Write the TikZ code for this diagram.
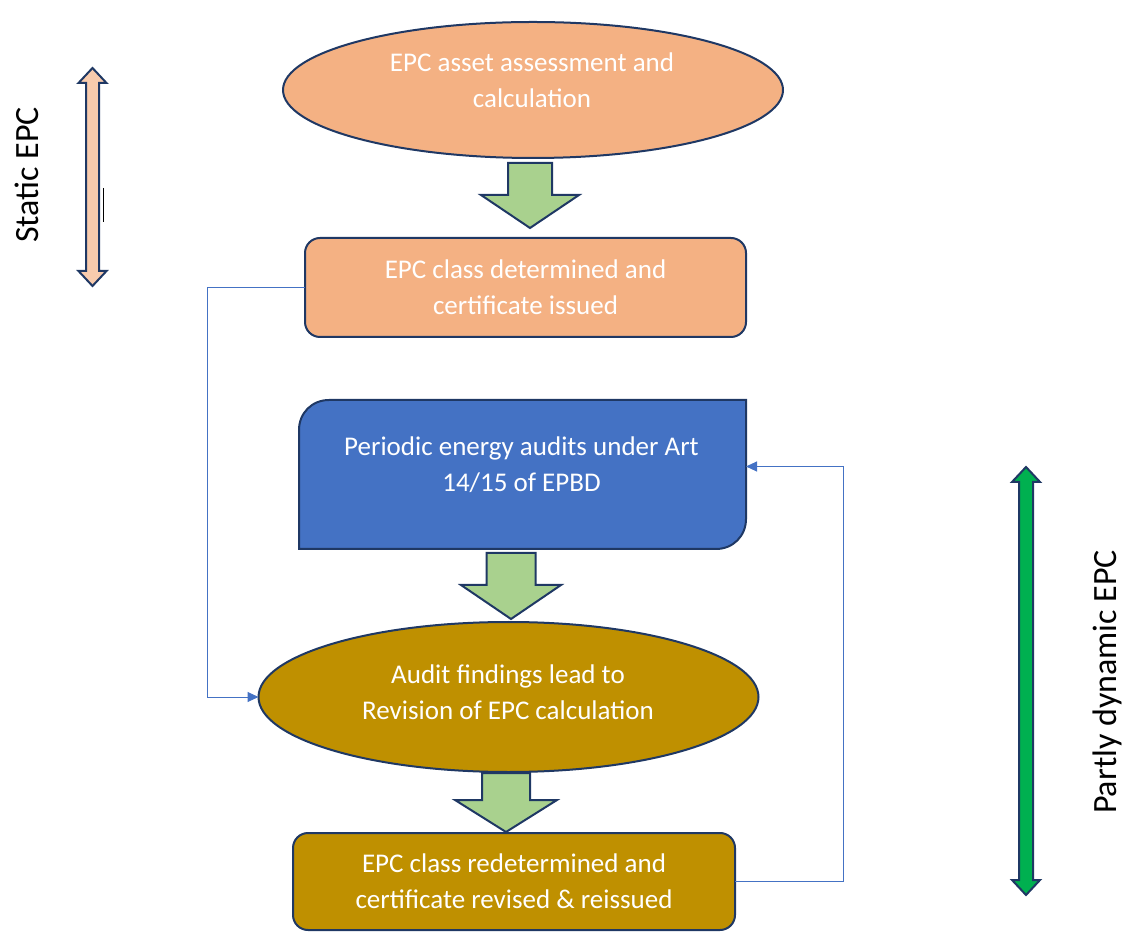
\documentclass[tikz,border=0pt]{standalone}
\usepackage{fontspec}
\setmainfont{Carlito}
\usetikzlibrary{shapes.geometric,arrows.meta,calc}

\definecolor{salmon}{HTML}{F4B183}
\definecolor{palesalmon}{HTML}{F8CBAD}
\definecolor{leaf}{HTML}{A9D18E}
\definecolor{steel}{HTML}{4472C4}
\definecolor{ochre}{HTML}{BF9000}
\definecolor{navy}{HTML}{1F3864}
\definecolor{vivid}{HTML}{00B050}

\tikzset{
  outline/.style={draw=navy, line width=2pt},
  txt/.style={text=white, align=center, font=\fontsize{27}{36}\selectfont, inner sep=0pt},
  oval/.style={ellipse, outline, inner sep=0pt, outer sep=0pt, txt},
  card/.style={rectangle, rounded corners=15pt, outline, outer sep=0pt, txt},
  side/.style={text=black, font=\fontsize{34}{40}\selectfont, inner sep=0pt},
  link/.style={draw=steel, line width=1pt, -{Triangle[length=11pt,width=10pt]}},
  blockarrow/.style={outline, fill=leaf, line join=miter},
}

% downward block arrow: centre x, top, neck, tip, half shaft, half head
\newcommand{\blockdown}[6]{%
  \draw[blockarrow] (#1-#5,#2) -- (#1+#5,#2) -- (#1+#5,#3) -- (#1+#6,#3)
    -- (#1,#4) -- (#1-#6,#3) -- (#1-#5,#3) -- cycle;}

% vertical double-headed block arrow: centre x, top, bottom, half shaft, half head, head length, fill
\newcommand{\twoway}[7]{%
  \draw[outline, line join=miter, fill=#7] (#1,#2) -- (#1+#5,#2-#6) -- (#1+#4,#2-#6)
    -- (#1+#4,#3+#6) -- (#1+#5,#3+#6) -- (#1,#3) -- (#1-#5,#3+#6)
    -- (#1-#4,#3+#6) -- (#1-#4,#2-#6) -- (#1-#5,#2-#6) -- cycle;}

\begin{document}
\begin{tikzpicture}[x=1pt,y=1pt]
\useasboundingbox (0,0) rectangle (1126,932);

% asset assessment
\node[oval, fill=salmon, minimum width=500pt, minimum height=136pt] (e1) at (533,842) {};
\node[txt] (e1t) at (532,852) {EPC asset assessment and\\calculation};

\blockdown{530}{769}{737}{704}{22}{49}

% certificate issued
\node[card, fill=salmon, minimum width=441pt, minimum height=99pt] (r2) at (525.5,644.5)
  {EPC class determined and\\certificate issued};

% periodic audits box, two rounded corners
\node[minimum width=447pt, minimum height=149pt, inner sep=0pt, outer sep=0pt] (b3) at (522.5,457.5) {};
\path[outline, fill=steel] (b3.south west) -- ([yshift=-30pt]b3.north west)
  .. controls ([yshift=-13pt]b3.north west) and ([xshift=13pt]b3.north west) .. ([xshift=30pt]b3.north west)
  -- (b3.north east) -- ([yshift=30pt]b3.south east)
  .. controls ([yshift=13pt]b3.south east) and ([xshift=-13pt]b3.south east) .. ([xshift=-30pt]b3.south east)
  -- cycle;
\node[txt] (b3t) at (521.5,467.5) {Periodic energy audits under Art\\14/15 of EPBD};

\blockdown{511}{379}{347}{313}{24.5}{50}

% audit findings
\node[oval, fill=ochre, minimum width=500pt, minimum height=150pt] (e2) at (508.5,235) {};
\node[txt] (e2t) at (508,239.5) {Audit findings lead to\\Revision of EPC calculation};

\blockdown{506}{159}{132}{100}{24}{51}

% certificate reissued
\node[card, fill=ochre, minimum width=442pt, minimum height=97pt] (r4) at (514,50.5)
  {EPC class redetermined and\\certificate revised \& reissued};

% feedback connectors
\draw[link] (r2.west) -- ++(-98,0) |- (e2.west);
\draw[link] (r4.east) -- ++(108,0) |- ([yshift=8pt]b3.east);

% side ranges
\twoway{92.5}{864}{646}{6.5}{14}{15}{palesalmon}
\draw[black, line width=1pt] (103,744) -- (103,710);
\node[side, rotate=90] (sl) at (27,757) {Static EPC};

\twoway{1026}{465}{37}{7}{14}{15}{vivid}
\node[side, rotate=90] (dl) at (1107,250) {Partly dynamic EPC};

\end{tikzpicture}
\end{document}
